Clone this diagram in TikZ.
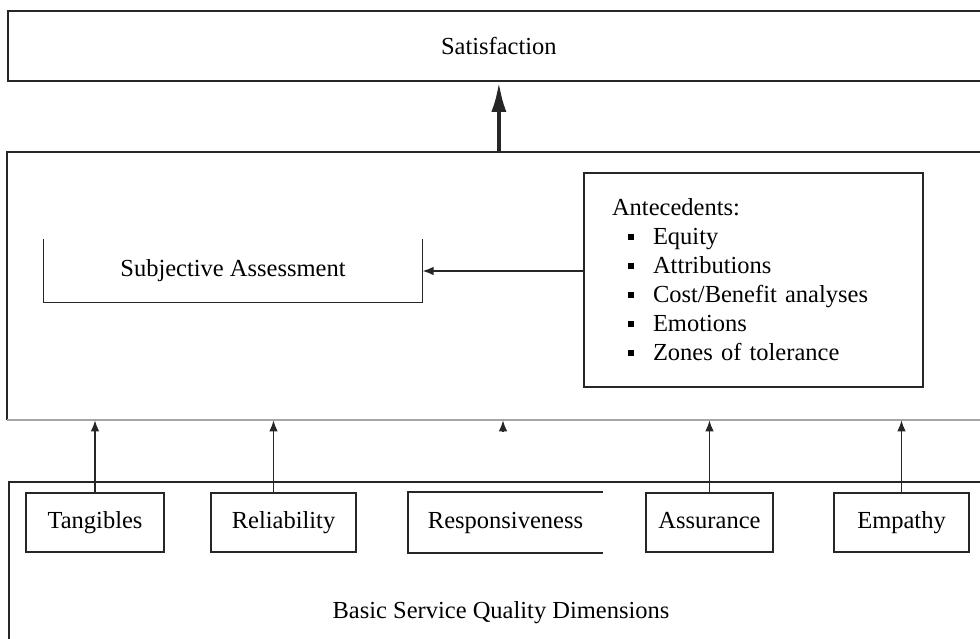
\documentclass[tikz,border=0pt]{standalone}
\usepackage{fontspec}
\setmainfont{Liberation Serif}
\usetikzlibrary{arrows.meta}
\tikzset{%
  bigbox/.style  = {shape=rectangle, draw=black!85, line width=0.7pt, inner sep=0pt},%
  dimbox/.style  = {shape=rectangle, draw=black!85, line width=0.65pt,%
                    minimum height=23.6pt, inner sep=0pt, text height=7pt, text depth=2.2pt},%
  flow/.style    = {draw=black!85, line width=0.6pt, -{Latex[length=4.4pt,width=3.4pt]}},%
  bigflow/.style = {draw=black!85, line width=1.6pt, -{Latex[length=12pt,width=6pt]}}%
}
\newcommand{\sqbullet}{\makebox[16.4pt][l]{\hspace*{6.4pt}\rule[1.8pt]{2.4pt}{2.4pt}}}

\begin{document}
\begin{tikzpicture}[x=0.4pt,y=-0.4pt,every node/.style={font=\fontsize{9.8}{11.6}\selectfont}]
		\useasboundingbox (0,0) rectangle (980,639);
		% top level
		\node[bigbox, anchor=north west, minimum width=392.8pt, minimum height=28pt] (sat) at (7,10) {Satisfaction};
		% middle level
		\node[bigbox, draw=none, anchor=north west, minimum width=400pt, minimum height=106.6pt] (mid) at (7,152) {};
		\draw[black!85, line width=0.7pt] (mid.south west) -- (mid.north west) -- (mid.north east);
		\draw[black!35, line width=0.7pt] (mid.south west) -- (mid.south east);
		\node[minimum width=151.2pt, minimum height=24.8pt, inner sep=0pt] (subj) at (233,271) {Subjective Assessment};
		\draw[black!85, line width=0.65pt] (subj.north west) -- (subj.south west) -- (subj.south east) -- (subj.north east);
		\node[bigbox, line width=0.65pt, minimum width=135.6pt, minimum height=85.6pt, text width=113.2pt, align=left] (ante) at (753.5,280)
			{Antecedents:\\
			 \sqbullet Equity\\
			 \sqbullet Attributions\\
			 \sqbullet Cost/Benefit analyses\\
			 \sqbullet Emotions\\
			 \sqbullet Zones of tolerance};
		\draw[flow] (ante.west |- subj.east) -- (subj.east);
		\draw[bigflow] (mid.north -| sat.south) -- (sat.south);
		% bottom level
		\node[bigbox, anchor=north west, minimum width=400pt, minimum height=80pt] (base) at (8,481) {};
		\node (basetext) at (501,613) {Basic Service Quality Dimensions};
		\node[dimbox, minimum width=55.2pt] (tang) at (95,522.5) {Tangibles};
		\node[dimbox, minimum width=58pt] (rel) at (283.5,522.5) {Reliability};
		\node[dimbox, draw=none, minimum width=77.2pt] (resp) at (505.5,522.5) {Responsiveness};
		\draw[black!85, line width=0.65pt] (resp.north east) -- (resp.north west) -- (resp.south west) -- (resp.south east);
		\node[dimbox, minimum width=50.8pt] (assu) at (709.5,522.5) {Assurance};
		\node[dimbox, minimum width=54pt] (emp) at (901.5,522.5) {Empathy};
		\foreach \n in {tang,assu,emp}
			\draw[flow] (\n.north) -- (\n.north |- mid.south);
		\draw[flow] ([xshift=-4pt]rel.north) -- ([xshift=-4pt]rel.north |- mid.south);
		\coordinate (respfoot) at (503,431);
		\draw[flow] (respfoot) -- (respfoot |- mid.south);
		\end{tikzpicture}
\end{document}
